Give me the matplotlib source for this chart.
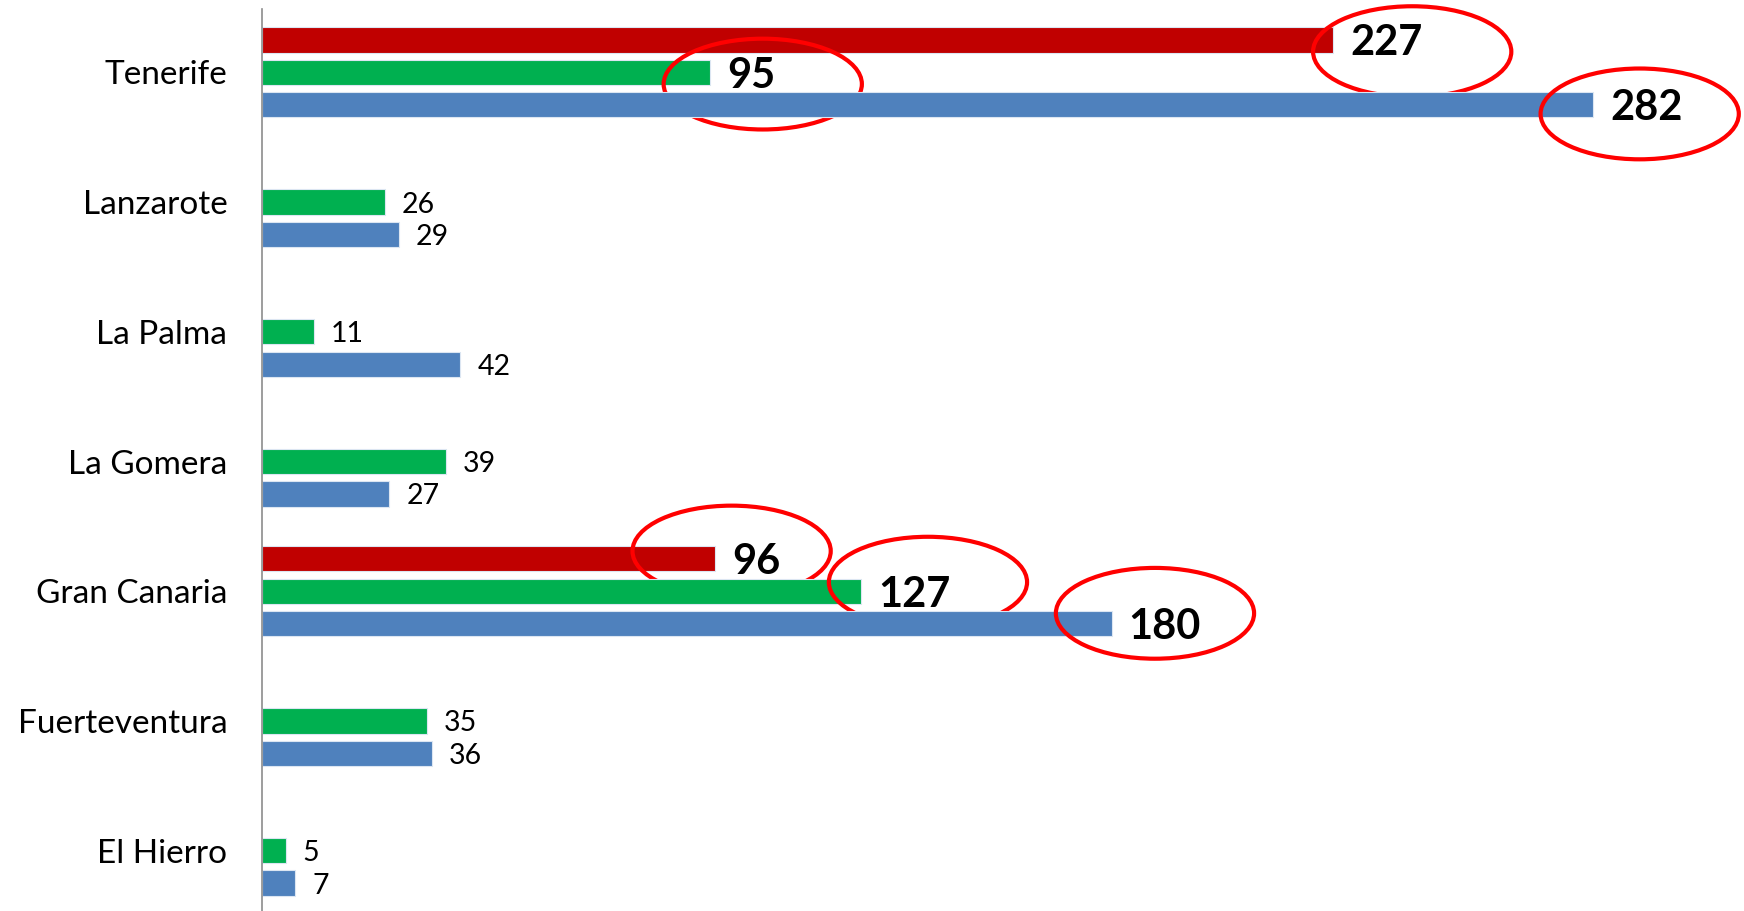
import numpy as np
import matplotlib.pyplot as plt
from matplotlib.patches import Ellipse

plt.rcParams['font.family'] = ['Lato', 'DejaVu Sans']

islands = ["Tenerife", "Lanzarote", "La Palma", "La Gomera",
           "Gran Canaria", "Fuerteventura", "El Hierro"]
red_vals = [227, None, None, None, 96, None, None]
green_vals = [95, 26, 11, 39, 127, 35, 5]
blue_vals = [282, 29, 42, 27, 180, 36, 7]
highlight = ["Tenerife", "Gran Canaria"]

# hand-drawn circles: (series, island) -> (dx in data units, dy in category units)
circle_offsets = {
    ("red", "Tenerife"): (16.7, -0.09),
    ("green", "Tenerife"): (11.1, -0.09),
    ("blue", "Tenerife"): (9.9, -0.07),
    ("red", "Gran Canaria"): (3.5, 0.06),
    ("green", "Gran Canaria"): (14.1, 0.07),
    ("blue", "Gran Canaria"): (9.2, 0.08),
}

fig = plt.figure(figsize=(17.44, 9.11), dpi=100)
ax = fig.add_axes([262 / 1744, 0, 1 - 262 / 1744, 0.990])

n = len(islands)
centers = np.arange(n)[::-1].astype(float)
slot = 0.25
bar_h = 0.195

series = [("red", red_vals, "#C00000", slot),
          ("green", green_vals, "#00B050", 0.0),
          ("blue", blue_vals, "#4F81BD", -slot)]

for name, vals, color, off in series:
    for i, v in enumerate(vals):
        if v is None:
            continue
        y = centers[i] + off
        ax.barh(y, v, height=bar_h, color=color, edgecolor="#dce6f2",
                linewidth=0.8)
        big = islands[i] in highlight
        ax.text(v + 3.6, y, str(v), va="center_baseline", ha="left",
                fontsize=30 if big else 20.5,
                fontweight="bold" if big else "normal", color="black")
        if (name, islands[i]) in circle_offsets:
            dx, dy = circle_offsets[(name, islands[i])]
            ax.add_patch(Ellipse((v + dx, y + dy), width=42, height=0.70,
                                 fill=False, edgecolor="#FF0000",
                                 linewidth=3.0, clip_on=False))

ax.set_xlim(0, 314)
ax.set_ylim(-0.465, 6.488)
ax.set_yticks(centers)
ax.set_yticklabels(islands, fontsize=24)
ax.tick_params(axis="y", length=0, pad=25)
ax.set_xticks([])
for s in ["top", "right", "bottom"]:
    ax.spines[s].set_visible(False)
ax.spines["left"].set_color("#8c8c8c")
ax.spines["left"].set_linewidth(1.2)

fig.savefig("out.png", dpi=100)
